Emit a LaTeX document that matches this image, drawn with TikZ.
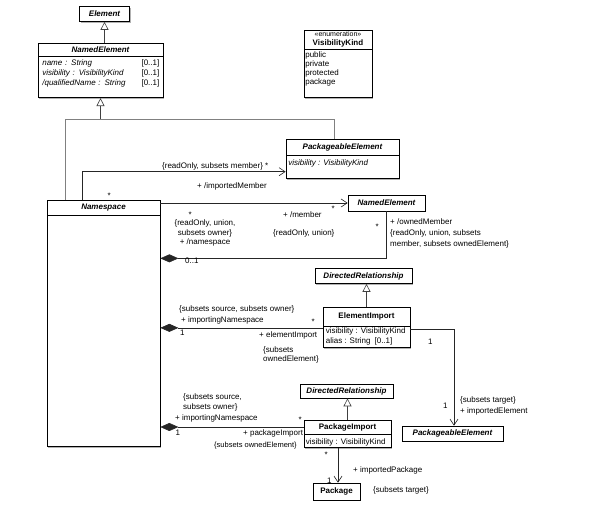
\documentclass[tikz,border=0pt]{standalone}
\usepackage{fontspec}
\setmainfont{Liberation Sans}
\usetikzlibrary{positioning,arrows.meta,shadows}
\tikzset{
  umlshadow/.style={drop shadow={shadow xshift=1.2pt, shadow yshift=-1.2pt, fill=black!60, opacity=0.5}},
  umlhead/.style={draw, line width=0.7pt, fill=white, inner sep=0pt, align=center,
    font=\fontsize{8}{9.5}\selectfont\bfseries\itshape, umlshadow},
  umlclass/.style={umlhead, font=\fontsize{8}{9.5}\selectfont\bfseries},
  umlbody/.style={draw, line width=0.7pt, fill=white, inner sep=0pt, anchor=north, umlshadow},
  umlattr/.style={anchor=north west, inner sep=0pt, align=left, font=\fontsize{8}{10}\selectfont},
  umllabel/.style={anchor=base west, inner sep=0pt, font=\fontsize{8}{9.5}\selectfont},
  umlnote/.style={anchor=north west, inner sep=0pt, align=left, font=\fontsize{8}{9.5}\selectfont},
  umlgen/.style={draw=black!75, line width=0.6pt, -{Triangle[open, length=8pt, width=8pt, fill=white]}},
  umlgenline/.style={draw=black!50, line width=0.6pt},
  umlassoc/.style={draw=black!85, line width=0.6pt, -{Straight Barb[length=6pt, width=8pt]}},
  umlcomp/.style={draw=black!85, line width=0.6pt, {Diamond[length=18pt, width=8pt]}-},
}

\begin{document}
\begin{tikzpicture}[x=1pt, y=-1pt]
  \useasboundingbox[fill=white] (0,0) rectangle (590,510);

  % classes
  \node[umlhead, minimum width=50pt, minimum height=15pt] (elem) at (104.5,14) {Element};

  \node[umlhead, minimum width=125pt, minimum height=13pt] (neA) at (100.5,49.5) {NamedElement};
  \node[umlbody, minimum width=125pt, minimum height=41pt] (neAbody) at (neA.south) {};
  \node[umlattr, text width=117pt] (neAattr) at ([shift={(4.5pt,-3pt)}]neAbody.north west)
    {\textit{name : String}\hfill[0..1]\\
     \textit{visibility : VisibilityKind}\hfill[0..1]\\
     \textit{/qualifiedName : String}\hfill[0..1]};

  \node[umlclass, minimum width=68pt, minimum height=19pt] (visHead) at (338,39.5)
    {{\fontsize{7}{8}\selectfont\mdseries «enumeration»}\\[-1pt]VisibilityKind};
  \node[umlbody, minimum width=68pt, minimum height=48pt] (visBody) at (visHead.south) {};
  \node[umlattr, font=\fontsize{8}{9}\selectfont] (visItems) at ([shift={(1.5pt,-2.5pt)}]visBody.north west)
    {public\\private\\protected\\package};

  \node[umlhead, minimum width=113pt, minimum height=16pt] (peA) at (342.5,147) {PackageableElement};
  \node[umlbody, minimum width=113pt, minimum height=23pt] (peAbody) at (peA.south) {};
  \node[umlattr] (peAattr) at ([shift={(2.5pt,-4pt)}]peAbody.north west) {\textit{visibility : VisibilityKind}};

  \node[umlhead, minimum width=113pt, minimum height=15pt] (ns) at (103.5,207.5) {Namespace};
  \node[umlbody, minimum width=113pt, minimum height=231pt] (nsBody) at (ns.south) {};

  \node[umlhead, minimum width=77pt, minimum height=16pt] (neB) at (386.5,203) {NamedElement};

  \node[umlhead, minimum width=97pt, minimum height=15pt] (drA) at (363.5,276) {DirectedRelationship};

  \node[umlclass, minimum width=87pt, minimum height=19pt] (ei) at (366.5,316.5) {ElementImport};
  \node[umlbody, minimum width=87pt, minimum height=21pt] (eiBody) at (ei.south) {};
  \node[umlattr] (eiAttr) at ([shift={(3pt,-1.5pt)}]eiBody.north west)
    {visibility : VisibilityKind\\alias : String\hspace{4pt}[0..1]};

  \node[umlhead, minimum width=101pt, minimum height=15pt] (peB) at (452.5,433.5) {PackageableElement};

  \node[umlhead, minimum width=93pt, minimum height=14pt] (drB) at (346.5,391) {DirectedRelationship};

  \node[umlclass, minimum width=87pt, minimum height=14pt] (pi) at (347.5,427) {PackageImport};
  \node[umlbody, minimum width=87pt, minimum height=13pt] (piBody) at (pi.south) {};
  \node[umlattr] (piAttr) at ([shift={(2pt,-4pt)}]piBody.north west) {visibility : VisibilityKind};

  \node[umlclass, minimum width=47pt, minimum height=17pt] (pkg) at (336.5,491.5) {Package};

  % generalizations
  \draw[umlgen] (elem.south |- neA.north) -- (elem.south);
  \coordinate[below=21pt of neAbody.south] (genjoin);
  \draw[umlgen] (genjoin) -- (neAbody.south);
  \draw[umlgenline] ([xshift=19pt]ns.north west) |- (genjoin) -| ([xshift=-8.5pt]peA.north);
  \draw[umlgen] (ei.north) -- (ei.north |- drA.south);
  \draw[umlgen] (pi.north) -- (pi.north |- drB.south);

  % associations
  \draw[umlassoc] ([xshift=36pt]ns.north west) |- ([yshift=-4.5pt]peAbody.west);
  \draw[umlassoc] (ns.east |- neB.west) -- (neB.west);
  \draw[umlcomp] ([yshift=-43pt]nsBody.north east) -| (neB.south);
  \coordinate (eiIn) at ([yshift=-1.5pt]eiBody.north west);
  \draw[umlcomp] (nsBody.east |- eiIn) -- (eiIn);
  \draw[umlassoc] ([yshift=-2.5pt]eiBody.north east) -| ([xshift=1.5pt]peB.north);
  \draw[umlcomp] (nsBody.east |- pi.west) -- (pi.west);
  \coordinate (pkgIn) at ([xshift=1.5pt]pkg.north);
  \draw[umlassoc] (pkgIn |- piBody.south) -- (pkgIn);

  % end labels
  \foreach \x/\y/\name/\txt in {
      162/169/impSet/{\{readOnly, subsets member\} *},
      197/189/impRole/{+ /importedMember},
      107.5/198.5/impNs/{*},
      188.5/217.5/memNs/{*},
      283/218/memRole/{+ /member},
      331.5/211.5/memEnd/{*},
      273/236/memSet/{\{readOnly, union\}},
      185/264/ownNs/{0..1},
      375.5/229.5/ownEnd/{*},
      179/312/eiNsSet/{\{subsets source, subsets owner\}},
      181/323/eiNsRole/{+ importingNamespace},
      311.5/324.5/eiEnd/{*},
      180/336/eiNs/{1},
      259/338/eiRole/{+ elementImport},
      428/345/eiTgt/{1},
      443/409/peBEnd/{1},
      175/421/piNsRole/{+ importingNamespace},
      298.5/422.5/piEnd/{*},
      175.5/436/piNs/{1},
      243/436/piRole/{+ packageImport},
      324.5/457.5/pkgSrc/{*},
      353/473/pkgRole/{+ importedPackage},
      327/484/pkgEnd/{1},
      373/493/pkgSet/{\{subsets target\}}} {
    \node[umllabel] (\name) at (\x,\y) {\txt};
  }
  \node[umllabel, font=\fontsize{7.5}{9}\selectfont] (piSet) at (214,448) {\{subsets ownedElement\}};
  \node[umlnote, align=center, anchor=north] (nsEnd) at (205,220)
    {\{readOnly, union,\\subsets owner\}\\+ /namespace};
  \node[umlnote, font=\fontsize{8}{11}\selectfont] (ownRole) at (390,219)
    {+ /ownedMember\\\{readOnly, union, subsets\\member, subsets ownedElement\}};
  \node[umlnote, font=\fontsize{8}{9}\selectfont] (eiSet) at (263,346.5) {\{subsets\\ownedElement\}};
  \node[umlnote, font=\fontsize{8}{11}\selectfont] (peBRole) at (460,397) {\{subsets target\}\\+ importedElement};
  \node[umlnote] (piNsSet) at (183,394) {\{subsets source,\\subsets owner\}};
\end{tikzpicture}
\end{document}
